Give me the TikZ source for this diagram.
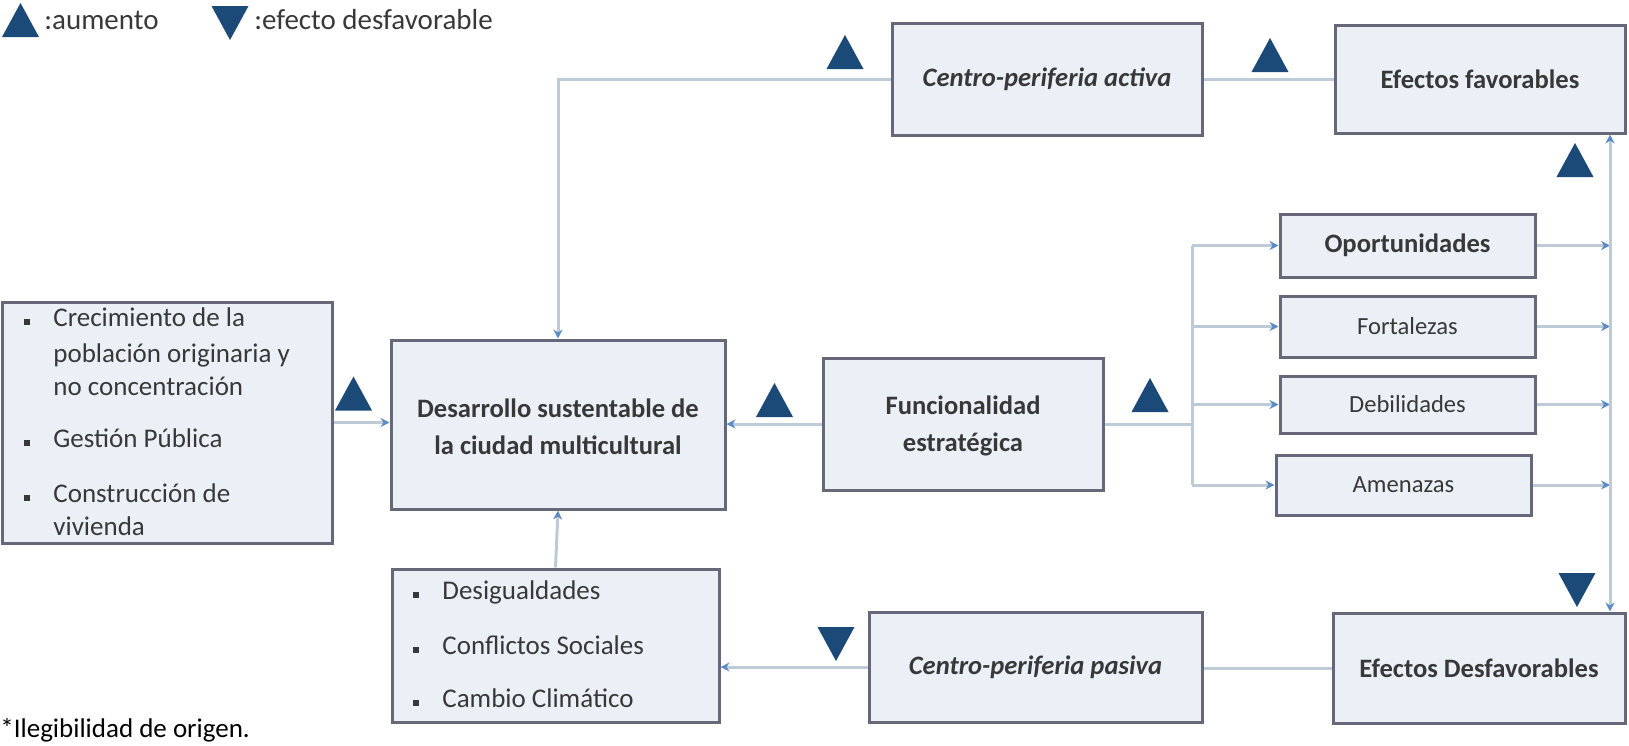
\documentclass[tikz,border=0pt]{standalone}
\usepackage{fontspec}
\setmainfont{Carlito}
\usetikzlibrary{arrows.meta,fit}
\definecolor{boxfill}{HTML}{EBF0F7}
\definecolor{boxdraw}{HTML}{67677A}
\definecolor{conn}{HTML}{BDCAD8}
\definecolor{tri}{HTML}{1C4A78}
\definecolor{tipc}{HTML}{5B8BC4}
\definecolor{txt}{HTML}{383838}
\begin{document}
\begin{tikzpicture}[x=0.5pt,y=-0.5pt,
  box/.style={draw=boxdraw, line width=1.5pt, fill=boxfill, inner sep=0pt},
  lbl/.style={inner sep=0pt, align=center, text=txt},
  bigtxt/.style={lbl, font=\fontsize{13.3}{18.5}\selectfont\bfseries},
  smalltxt/.style={lbl, font=\fontsize{12.3}{14}\selectfont},
  itemtxt/.style={anchor=mid west, inner sep=0pt, text=txt, font=\fontsize{13.5}{16}\selectfont},
  bul/.style={fill=txt, minimum size=3.2pt, inner sep=0pt},
  conn/.style={draw=conn, line width=1.5pt},
  arr/.style={conn, -{Stealth[length=4.5pt,width=4.5pt,color=tipc]}},
  rarr/.style={conn, {Stealth[length=4.5pt,width=4.5pt,color=tipc]}-},
  uptri/.pic={\fill[tri] (-18.5,17) -- (18.5,17) -- (0,-17) -- cycle;},
  downtri/.pic={\fill[tri] (-18.5,-17) -- (18.5,-17) -- (0,17) -- cycle;}
]
\useasboundingbox (0,0) rectangle (1629,745);

% legend
\pic at (20.5,20) {uptri};
\node[anchor=mid west, inner sep=0pt, text=txt, font=\fontsize{14.5}{17}\selectfont] (lg1) at (44,25) {:aumento};
\pic at (230,23) {downtri};
\node[anchor=mid west, inner sep=0pt, text=txt, font=\fontsize{14.5}{17}\selectfont] (lg2) at (254,25) {:efecto desfavorable};

% boxes
\node[box, fit={(2,302) (332,543)}] (lb) {};
\node[box, fit={(391,340) (725,509)}] (des) {};
\node[box, fit={(823,358) (1103,490)}] (fun) {};
\node[box, fit={(892,23) (1202,135)}] (cpa) {};
\node[box, fit={(1335,25) (1625,133)}] (ef) {};
\node[box, fit={(1280,214) (1535,277)}] (op) {};
\node[box, fit={(1280,296) (1535,357)}] (fo) {};
\node[box, fit={(1280,376) (1535,433)}] (de) {};
\node[box, fit={(1276,455) (1531,515)}] (am) {};
\node[box, fit={(392,569) (719,722)}] (bb) {};
\node[box, fit={(869,612) (1202,722)}] (cpp) {};
\node[box, fit={(1333,613) (1625,723)}] (ed) {};

% box texts
\node[bigtxt] (desT) at ([yshift=-1pt]des.center) {Desarrollo sustentable de\\la ciudad multicultural};
\node[bigtxt] (funT) at ([yshift=-1pt]fun.center) {Funcionalidad\\estratégica};
\node[bigtxt] (cpaT) at (cpa.center) {\itshape Centro-periferia activa};
\node[bigtxt] (efT) at (ef.center) {Efectos favorables};
\node[bigtxt] (opT) at (op.center) {Oportunidades};
\node[smalltxt] (foT) at (fo.center) {Fortalezas};
\node[smalltxt] (deT) at (de.center) {Debilidades};
\node[smalltxt] (amT) at (am.center) {Amenazas};
\node[bigtxt] (cppT) at (cpp.center) {\itshape Centro-periferia pasiva};
\node[bigtxt] (edT) at (ed.center) {Efectos Desfavorables};

% left box items
\node[bul] (b1) at (27,322) {};
\node[itemtxt] (t1) at (53,322) {Crecimiento de la};
\node[itemtxt] (t1b) at (53,358) {población originaria y};
\node[itemtxt] (t1c) at (53,391) {no concentración};
\node[bul] (b2) at (27,443) {};
\node[itemtxt] (t2) at (53,443) {Gestión Pública};
\node[bul] (b3) at (27,498) {};
\node[itemtxt] (t3) at (53,498) {Construcción de};
\node[itemtxt] (t3b) at (53,531) {vivienda};

% bottom box items
\node[bul] (c1) at (416,595) {};
\node[itemtxt] (u1) at (442,595) {Desigualdades};
\node[bul] (c2) at (416,650) {};
\node[itemtxt] (u2) at (442,650) {Conflictos Sociales};
\node[bul] (c3) at (416,703) {};
\node[itemtxt] (u3) at (442,703) {Cambio Climático};

% footer
\node[anchor=mid west, inner sep=0pt, font=\fontsize{13.5}{16}\selectfont] (foot) at (0,733) {*Ilegibilidad de origen.};

% coordinates
\coordinate (br) at (1192,424);
\coordinate (vx) at (1610,300);

% connectors
\draw[arr] (lb.east) -- (lb.east -| des.west);
\draw[arr] (fun.west) -- (fun.west -| des.east);
\draw[rarr] (des.north) |- (cpa.west);
\draw[conn] (cpa.east) -- (cpa.east -| ef.west);
\draw[conn] (fun.east) -- (br);
\draw[conn] (br |- op.west) -- (br |- am.west);
\foreach \n in {op,fo,de,am}{
  \draw[arr] (br |- \n.west) -- (\n.west);
  \draw[arr] (\n.east) -- (\n.east -| vx);
}
\draw[conn, {Stealth[length=4.5pt,width=4.5pt,color=tipc]}-{Stealth[length=4.5pt,width=4.5pt,color=tipc]}] (ef.south -| vx) -- (ed.north -| vx);
\draw[conn] (ed.west) -- (ed.west -| cpp.east);
\draw[arr] (cpp.west) -- (cpp.west -| bb.east);
\draw[rarr] (des.south) -- (bb.north);

% triangles
\pic at (845,52) {uptri};
\pic at (1270,55) {uptri};
\pic at (1575,160) {uptri};
\pic at (353.5,393.5) {uptri};
\pic at (774.5,400) {uptri};
\pic at (1150,395) {uptri};
\pic at (1577,590) {downtri};
\pic at (836,644) {downtri};
\end{tikzpicture}
\end{document}
